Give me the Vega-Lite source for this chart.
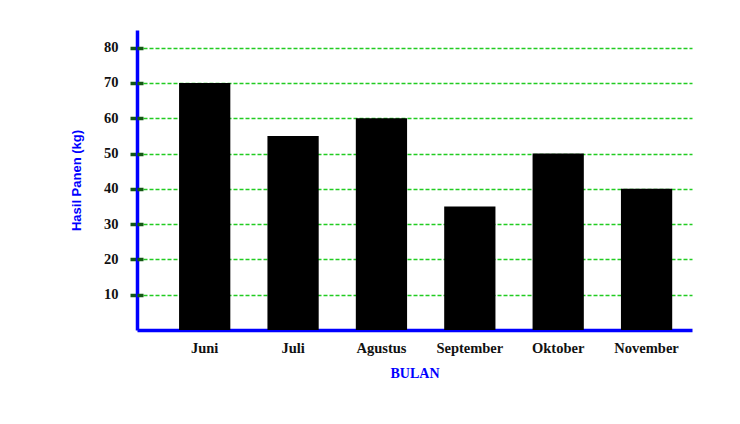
{
  "$schema": "https://vega.github.io/schema/vega-lite/v6.json",
  "autosize": {"type": "none"},
  "width": 555,
  "height": 300,
  "padding": {"left": 137, "top": 30, "right": 48, "bottom": 94},
  "background": "white",
  "config": {"view": {"stroke": null}},
  "data": {"values": [
    {"bulan": "Juni", "hasil": 70},
    {"bulan": "Juli", "hasil": 55},
    {"bulan": "Agustus", "hasil": 60},
    {"bulan": "September", "hasil": 35},
    {"bulan": "Oktober", "hasil": 50},
    {"bulan": "November", "hasil": 40}
  ]},
  "encoding": {
    "x": {
      "field": "bulan", "type": "nominal", "sort": null,
      "scale": {"paddingInner": 0.42, "paddingOuter": 0.35, "align": 0.68},
      "axis": {
        "title": "BULAN", "labelAngle": 0,
        "domainColor": "#0000ff", "domainWidth": 3.5, "ticks": false,
        "labelFont": "Liberation Serif", "labelFontWeight": "bold", "labelFontSize": 14.5, "labelColor": "#111111", "labelPadding": 11,
        "titleFont": "Liberation Serif", "titleFontWeight": "bold", "titleFontSize": 14, "titleColor": "#0000ff", "titlePadding": 12
      }
    },
    "y": {
      "field": "hasil", "type": "quantitative",
      "scale": {"domain": [0, 85], "nice": false}
    }
  },
  "layer": [
    {
      "mark": {"type": "bar", "color": "#000000"},
      "encoding": {
        "y": {
          "field": "hasil", "type": "quantitative",
          "scale": {"domain": [0, 85], "nice": false},
          "axis": {
            "orient": "left",
            "title": "Hasil Panen (kg)",
            "values": [10, 20, 30, 40, 50, 60, 70, 80],
            "grid": true, "gridColor": "#22cc22", "gridDash": [4, 2], "gridWidth": 1.5,
            "domainColor": "#0000ff", "domainWidth": 3.5,
            "tickColor": "#145a14", "tickWidth": 3.5, "tickSize": 7,
            "labelFont": "Liberation Serif", "labelFontWeight": "bold", "labelFontSize": 14.5, "labelColor": "#111111", "labelPadding": 12,
            "titleFont": "Liberation Sans", "titleFontWeight": "bold", "titleFontSize": 13, "titleColor": "#0000ff", "titlePadding": 20
          }
        }
      }
    },
    {
      "mark": {"type": "bar", "opacity": 0},
      "encoding": {
        "y": {
          "field": "hasil", "type": "quantitative",
          "scale": {"domain": [0, 85], "nice": false},
          "axis": {
            "orient": "left", "title": null,
            "values": [10, 20, 30, 40, 50, 60, 70, 80],
            "grid": false, "domain": false, "labels": false,
            "tickColor": "#145a14", "tickWidth": 3.5, "tickSize": -6
          }
        }
      }
    }
  ],
  "resolve": {"axis": {"y": "independent"}}
}
